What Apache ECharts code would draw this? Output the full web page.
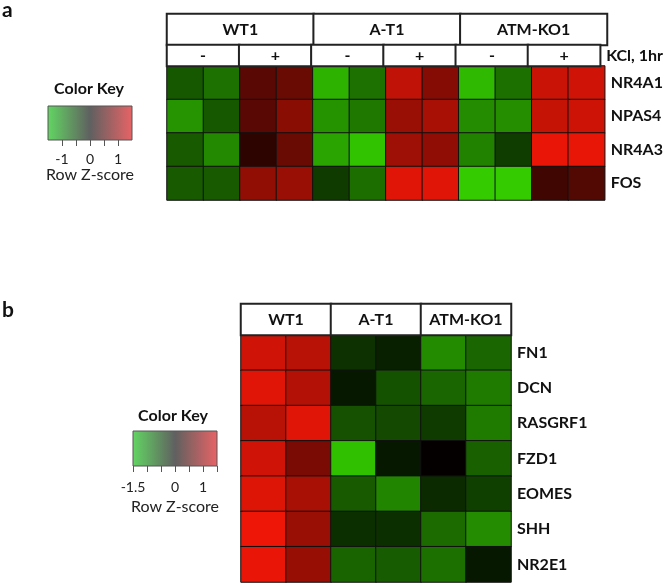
<!DOCTYPE html>
<html>
<head>
<meta charset="utf-8">
<script src="https://cdn.jsdelivr.net/npm/echarts@6/dist/echarts.min.js"></script>
<style>html,body{margin:0;padding:0;background:#fff;}#c{width:666px;height:585px;}</style>
</head>
<body>
<div id="c"></div>
<script>
// ---- Panel a data ----
const groupsA = ['WT1', 'A-T1', 'ATM-KO1'];
const kclA = ['-', '+', '-', '+', '-', '+'];
const kclLabelA = ['KCl, 1hr'];
const genesA = ['NR4A1', 'NPAS4', 'NR4A3', 'FOS'];
const samplesA = ['c1','c2','c3','c4','c5','c6','c7','c8','c9','c10','c11','c12'];
const zA = [
  [-0.62, -0.80, 0.53, 0.62, -1.26, -0.80, 1.13, 0.78, -1.31, -0.79, 1.18, 1.22],
  [-1.05, -0.62, 0.53, 0.81, -1.03, -0.85, 0.90, 0.99, -0.99, -1.00, 1.16, 1.20],
  [-0.64, -0.97, 0.27, 0.62, -1.16, -1.37, 0.93, 0.84, -0.92, -0.43, 1.37, 1.36],
  [-0.64, -0.64, 0.85, 0.90, -0.41, -0.78, 1.32, 1.32, -1.44, -1.44, 0.37, 0.48]
];
// ---- Panel b data ----
const groupsB = ['WT1', 'A-T1', 'ATM-KO1'];
const genesB = ['FN1', 'DCN', 'RASGRF1', 'FZD1', 'EOMES', 'SHH', 'NR2E1'];
const samplesB = ['c1','c2','c3','c4','c5','c6'];
const zB = [
  [1.22, 1.08, -0.35, -0.22, -0.98, -0.72],
  [1.32, 1.06, -0.17, -0.58, -0.72, -0.86],
  [1.08, 1.32, -0.57, -0.52, -0.42, -0.86],
  [1.22, 0.71, -1.36, -0.17, 0.03, -0.68],
  [1.30, 0.99, -0.64, -0.94, -0.30, -0.45],
  [1.40, 0.90, -0.33, -0.33, -0.76, -0.99],
  [1.37, 0.89, -0.71, -0.65, -0.79, -0.18]
];
// ---- Color keys ----
const keyRange = [-1.5, 1.5];
const keyTicksA = [-1, -0.5, 0, 0.5, 1];
const keyLabelsA = [-1, 0, 1];
const keyTicksB = [-1.5, -1, -0.5, 0, 0.5, 1, 1.5];
const keyLabelsB = [-1.5, 0, 1];

const FONT = 'Lato';
const heatColors = ['#36d400', '#000000', '#ff1808'];
const keyColors = ['#62d662', '#606060', '#e86366'];

function cells(z) {
  const out = [];
  z.forEach((row, i) => row.forEach((v, j) => out.push([j, i, v])));
  return out;
}
function hdrCells(n) {
  const out = [];
  for (let j = 0; j < n; j++) out.push([j, 0, 0]);
  return out;
}
const hidden = {axisLine:{show:false}, axisTick:{show:false}, axisLabel:{show:false}, splitLine:{show:false}};
function catX(grid, data) { return Object.assign({gridIndex:grid, type:'category', data:data}, hidden); }
function catY(grid, data, showLabels) {
  return {gridIndex:grid, type:'category', data:data, inverse:true, position:'right',
    axisLine:{show:false}, axisTick:{show:false}, splitLine:{show:false},
    axisLabel:{show:showLabels, margin:6, fontSize:16, fontWeight:'bold', color:'#111', fontFamily:FONT}};
}
function keyX(grid, ticks, labels, nameGap, labelMargin) {
  return {gridIndex:grid, type:'value', min:keyRange[0], max:keyRange[1],
    axisLine:{show:false}, splitLine:{show:false},
    axisTick:{show:true, customValues:ticks, length:6, lineStyle:{color:'#555', width:1}},
    axisLabel:{show:true, customValues:labels, margin:labelMargin, fontSize:14, color:'#222', fontFamily:FONT},
    name:'Row Z-score', nameLocation:'middle', nameGap:nameGap,
    nameTextStyle:{fontSize:16, color:'#222', fontFamily:FONT}};
}
function keyY(grid) { return Object.assign({gridIndex:grid, type:'value', min:0, max:1}, hidden); }
function keySeries(ax) {
  return {type:'custom', xAxisIndex:ax, yAxisIndex:ax, data:[keyRange], silent:true,
    renderItem:(params, api) => {
      const p0 = api.coord([api.value(0), 0]);
      const p1 = api.coord([api.value(1), 1]);
      return {type:'rect', shape:{x:p0[0], y:p1[1], width:p1[0]-p0[0], height:p0[1]-p1[1]},
        style:{fill:new echarts.graphic.LinearGradient(0,0,1,0,[
          {offset:0, color:keyColors[0]}, {offset:0.5, color:keyColors[1]}, {offset:1, color:keyColors[2]}]),
          stroke:'#555', lineWidth:1}};
    }};
}
function hdrSeries(ax, names) {
  return {type:'heatmap', xAxisIndex:ax, yAxisIndex:ax, data:hdrCells(names.length), silent:true,
    itemStyle:{color:'#ffffff', borderColor:'#222', borderWidth:2},
    label:{show:true, formatter:p => names[p.value[0]], fontSize:16, fontWeight:'bold', color:'#111', fontFamily:FONT},
    emphasis:{disabled:true}};
}

const chart = echarts.init(document.getElementById('c'), null, {renderer:'canvas'});
chart.setOption({
  backgroundColor:'#ffffff',
  animation:false,
  textStyle:{fontFamily:FONT},
  grid:[
    {left:167, top:66, width:440, height:134},  // 0 a data
    {left:167, top:14, width:440, height:31},   // 1 a header groups
    {left:167, top:45, width:440, height:21},   // 2 a header KCl
    {left:48, top:106, width:84, height:34},    // 3 a key
    {left:241, top:335, width:270, height:247}, // 4 b data
    {left:241, top:304, width:270, height:31},  // 5 b header
    {left:133, top:431, width:84, height:35}    // 6 b key
  ],
  xAxis:[
    catX(0, samplesA), catX(1, groupsA), catX(2, kclA),
    keyX(3, keyTicksA, keyLabelsA, 25, 12),
    catX(4, samplesB), catX(5, groupsB),
    keyX(6, keyTicksB, keyLabelsB, 33, 14)
  ],
  yAxis:[
    catY(0, genesA, true), catY(1, [''], false), catY(2, kclLabelA, true),
    keyY(3),
    catY(4, genesB, true), catY(5, [''], false),
    keyY(6)
  ],
  visualMap:[{type:'continuous', show:false, min:keyRange[0], max:keyRange[1], dimension:2,
    seriesIndex:[0,1], inRange:{color:heatColors}}],
  series:[
    {type:'heatmap', xAxisIndex:0, yAxisIndex:0, data:cells(zA), silent:true,
      itemStyle:{borderColor:'#111', borderWidth:1}, emphasis:{disabled:true}},
    {type:'heatmap', xAxisIndex:4, yAxisIndex:4, data:cells(zB), silent:true,
      itemStyle:{borderColor:'#111', borderWidth:1}, emphasis:{disabled:true}},
    hdrSeries(1, groupsA),
    hdrSeries(2, kclA),
    hdrSeries(5, groupsB),
    keySeries(3),
    keySeries(6)
  ],
  graphic:[
    {type:'text', x:2, y:10, style:{text:'a', font:'bold 21px Lato', fill:'#111', textVerticalAlign:'middle'}},
    {type:'text', x:2, y:310, style:{text:'b', font:'bold 21px Lato', fill:'#111', textVerticalAlign:'middle'}},
    {type:'text', x:89, y:89, style:{text:'Color Key', font:'bold 16px Lato', fill:'#111', textAlign:'center', textVerticalAlign:'middle'}},
    {type:'text', x:173, y:416, style:{text:'Color Key', font:'bold 16px Lato', fill:'#111', textAlign:'center', textVerticalAlign:'middle'}}
  ]
});
</script>
</body>
</html>
